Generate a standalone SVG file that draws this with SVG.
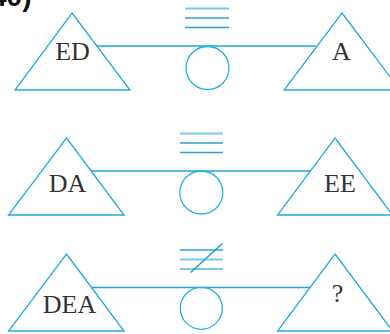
<svg xmlns="http://www.w3.org/2000/svg" width="390" height="334" viewBox="0 0 390 334">
<style>
.tri{fill:none;stroke:#22a9de;stroke-width:1.3}
.ln{stroke:#22a0d8;stroke-width:1.3;fill:none}
.eq{stroke:#2a9fd8;stroke-width:1.6}
.eql{stroke:#7ec6ea;stroke-width:1.8}
.cir{fill:none;stroke:#22b4e0;stroke-width:1.3}
.lbl{font-family:"Liberation Serif",serif;font-size:26px;fill:#333;text-anchor:middle}
.num{font-family:"Liberation Sans",sans-serif;font-size:28px;font-weight:bold;fill:#111}
</style>
<rect width="390" height="334" fill="#fff"/>
<text class="num" x="-9" y="6">40)</text>
<g id="connectors">
<line class="ln" x1="97" y1="46" x2="316" y2="46"/>
<line class="ln" x1="91" y1="171" x2="311" y2="171"/>
<line class="ln" x1="91" y1="287.5" x2="311" y2="287.5"/>
</g>
<g id="row1-eq">
<line class="eql" x1="185" y1="8.5" x2="229" y2="8.5"/>
<line class="eq" x1="185" y1="18" x2="229" y2="18"/>
<line class="eq" x1="185" y1="27.5" x2="229" y2="27.5"/>
</g>
<g id="row2-eq">
<line class="eql" x1="180" y1="133.5" x2="223" y2="133.5"/>
<line class="eq" x1="180" y1="143" x2="223" y2="143"/>
<line class="eq" x1="180" y1="152.5" x2="223" y2="152.5"/>
</g>
<g id="row3-neq">
<line class="eq" x1="180" y1="250" x2="223" y2="250"/>
<line class="eql" x1="180" y1="259.5" x2="223" y2="259.5"/>
<line class="eql" x1="180" y1="269" x2="223" y2="269"/>
<line class="eq" x1="190.5" y1="272.5" x2="222.5" y2="243.5"/>
</g>
<g id="node-ED">
<polygon class="tri" points="72,13 130,90 15,90"/>
<text class="lbl" x="72.5" y="60">ED</text>
</g>
<g id="node-A">
<polygon class="tri" points="342,13 400,90 284,90"/>
<text class="lbl" x="341.5" y="60">A</text>
</g>
<g id="circle-1"><circle class="cir" cx="207.5" cy="68" r="21.5"/></g>
<g id="node-DA">
<polygon class="tri" points="66.5,138 124,215 8.5,215"/>
<text class="lbl" x="67.5" y="192">DA</text>
</g>
<g id="node-EE">
<polygon class="tri" points="335,138 392.5,215 277.5,215"/>
<text class="lbl" x="340" y="192">EE</text>
</g>
<g id="circle-2"><circle class="cir" cx="201.3" cy="192.5" r="21.5"/></g>
<g id="node-DEA">
<polygon class="tri" points="66.5,254 124,331 8.5,331"/>
<text class="lbl" x="69.5" y="313">DEA</text>
</g>
<g id="node-Q">
<polygon class="tri" points="335,254 392.5,331 277.5,331"/>
<text class="lbl" x="337.5" y="302">?</text>
</g>
<g id="circle-3"><circle class="cir" cx="201.3" cy="308.3" r="21"/></g>
</svg>
